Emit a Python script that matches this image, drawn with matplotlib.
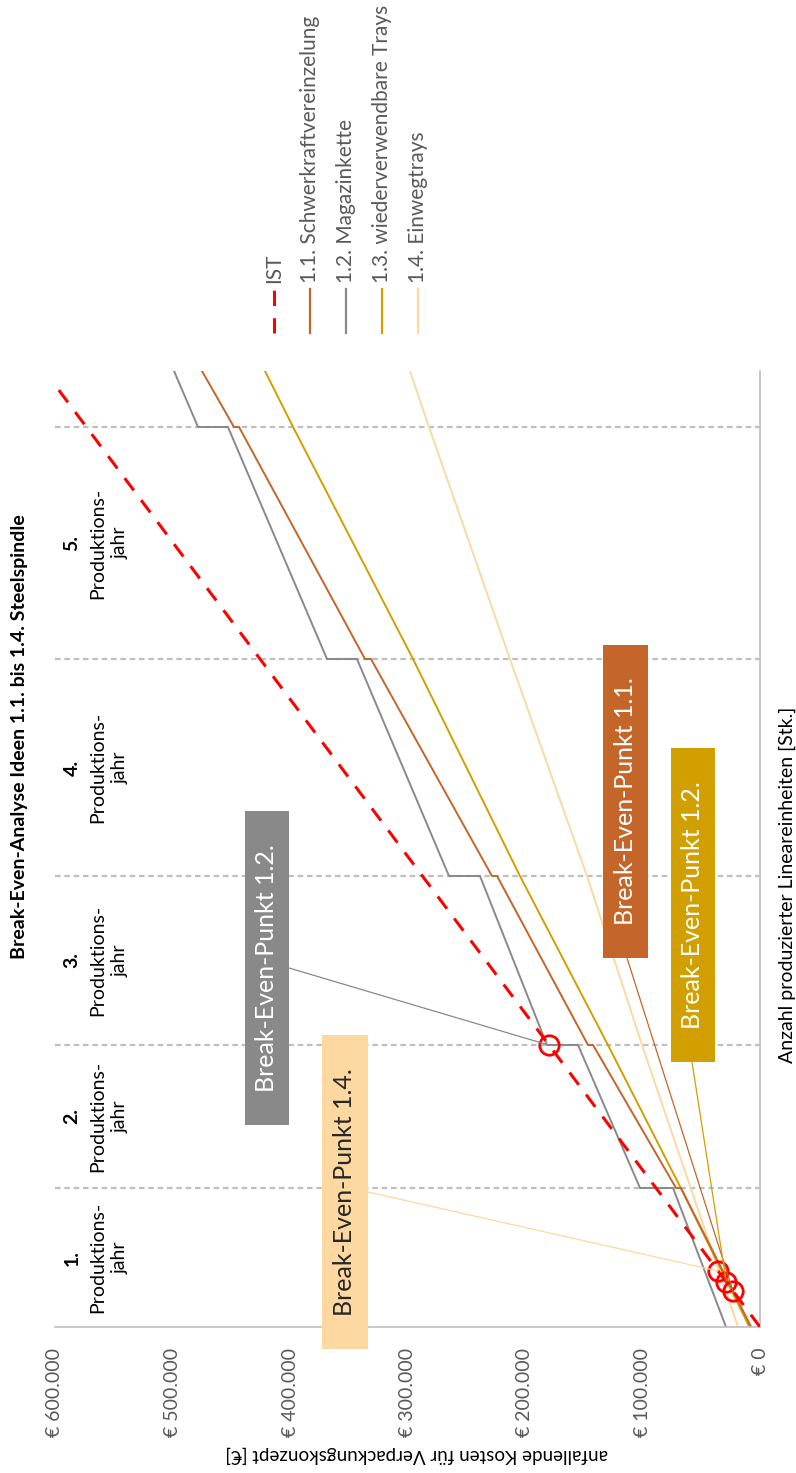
import matplotlib
matplotlib.use("Agg")
import matplotlib.pyplot as plt
from matplotlib import transforms
from matplotlib.lines import Line2D
from matplotlib.patches import Rectangle, ConnectionPatch
from matplotlib.ticker import FuncFormatter

plt.rcParams['font.family'] = ['Lato', 'DejaVu Sans']

W, H = 796, 1473

# produced units at the end of each production year (cumulative)
year_end = [6950, 14100, 22550, 33400, 45000]
units_max = 47800

# current state (IST)
ist_units = [0, 6950, 14100, 22550, 33400, 45000, 47100]
ist_cost = [0, 88500, 179600, 287300, 425500, 573300, 600000]

# ideas 1.1 - 1.4, value before and after each year change
step_units = [0, 6950, 6950, 14100, 14100, 22550, 22550,
              33400, 33400, 45000, 45000, 47800]
cost_11 = [7500, 67300, 71500, 142100, 146400, 223800, 228100,
           331100, 336200, 443400, 447700, 474900]
cost_12 = [28900, 74000, 102100, 154900, 181300, 238300, 264700,
           343000, 368500, 452800, 478300, 498700]
cost_13 = [9000, 67400, 67400, 129400, 129400, 204300, 204300,
           295300, 295300, 397400, 397400, 421300]
cost_14 = [18700, 59000, 59000, 100400, 100400, 147200, 147200,
           212800, 212800, 281700, 281700, 297900]

# break-even points (units, cost)
be_units = [1800, 2250, 2800, 14100]
be_cost = [23000, 28700, 35700, 180000]

cost_ticks = [0, 100000, 200000, 300000, 400000, 500000, 600000]

names = ['IST', '1.1. Schwerkraftvereinzelung', '1.2. Magazinkette',
         '1.3. wiederverwendbare Trays', '1.4. Einwegtrays']
c_red = '#FF0000'
c_11 = '#C4662A'
c_12 = '#898989'
c_13 = '#D29F00'
c_14 = '#FDD8A0'
colors = [c_red, c_11, c_12, c_13, c_14]


def fx(px):
    return px / W


def fy(py):
    return 1 - py / H


fig = plt.figure(figsize=(W / 100, H / 100), dpi=100)
ax = fig.add_axes([fx(55), fy(1327), fx(760) - fx(55), fy(371) - fy(1327)])

ax.set_xlim(600000, 0)
ax.set_ylim(0, units_max)

for u in year_end:
    ax.axhline(u, color='#BFBFBF', lw=1.6, ls=(0, (2.5, 1.7)), zorder=1)

ax.plot(cost_14, step_units, color=c_14, lw=1.4, zorder=2)
ax.plot(cost_13, step_units, color=c_13, lw=1.4, zorder=2)
ax.plot(cost_12, step_units, color=c_12, lw=1.4, zorder=2)
ax.plot(cost_11, step_units, color=c_11, lw=1.4, zorder=2)
ax.plot(ist_cost, ist_units, color=c_red, lw=2.2, dashes=(5, 4), zorder=3)
ax.plot(be_cost, be_units, 'o', mfc='none', mec=c_red, ms=14, mew=2,
        zorder=4, clip_on=False)

for s in ['top', 'left']:
    ax.spines[s].set_visible(False)
for s in ['bottom', 'right']:
    ax.spines[s].set_color('#BFBFBF')
    ax.spines[s].set_linewidth(1.2)

ax.set_yticks([])
ax.set_xticks(cost_ticks)
ax.xaxis.set_major_formatter(
    FuncFormatter(lambda v, p: '€ ' + f'{int(v):,}'.replace(',', '.')))
ax.tick_params(axis='x', length=0, pad=15, labelrotation=90,
               labelsize=14, labelcolor='#595959')

# production year labels
bt = transforms.blended_transform_factory(fig.transFigure, ax.transData)
bounds = [0] + year_end
for i in range(5):
    mid = (bounds[i] + bounds[i + 1]) / 2
    ax.text(fx(72), mid, f'{i + 1}.', transform=bt, rotation=90,
            ha='center', va='center', fontsize=14, fontweight='bold')
    ax.text(fx(109), mid, 'Produktions-\njahr', transform=bt, rotation=90,
            ha='center', va='center', fontsize=14, linespacing=1.4,
            multialignment='center')

fig.text(fx(20), fy(737), 'Break-Even-Analyse Ideen 1.1. bis 1.4. Steelspindle',
         rotation=90, ha='center', va='center', fontsize=14, fontweight='bold')
fig.text(fx(417), fy(1455), 'anfallende Kosten für Verpackungskonzept [€]',
         rotation=180, ha='center', va='center', fontsize=13.5)
fig.text(fx(787), fy(885), 'Anzahl produzierter Lineareinheiten [Stk.]',
         rotation=90, ha='center', va='center', fontsize=14)

# legend
for i, (name, col) in enumerate(zip(names, colors)):
    x = 274 + 36 * i
    if i == 0:
        fig.add_artist(Line2D([fx(x), fx(x)], [fy(333), fy(289)],
                              transform=fig.transFigure, color=col, lw=2.2,
                              dashes=(5, 4)))
    else:
        fig.add_artist(Line2D([fx(x), fx(x)], [fy(333), fy(289)],
                              transform=fig.transFigure, color=col, lw=1.6))
    fig.text(fx(x), fy(283), name, rotation=90, ha='center', va='bottom',
             fontsize=15, color='#595959')

# break-even callouts: box (x0, y0, x1, y1 in px), colour, text colour,
# anchor of the leader line, break-even point index
callouts = [
    ((245, 811, 289, 1125), c_12, 'white', (289, 968), 3, 'Break-Even-Punkt 1.2.'),
    ((322, 1035, 368, 1349), c_14, '#262626', (368, 1192), 2, 'Break-Even-Punkt 1.4.'),
    ((603, 645, 648, 958), c_11, 'white', (627, 958), 0, 'Break-Even-Punkt 1.1.'),
    ((671, 748, 715, 1062), c_13, 'white', (692, 1062), 1, 'Break-Even-Punkt 1.2.'),
]
for (x0, y0, x1, y1), col, tcol, anchor, k, label in callouts:
    fig.add_artist(ConnectionPatch(
        xyA=(fx(anchor[0]), fy(anchor[1])), coordsA='figure fraction',
        xyB=(be_cost[k], be_units[k]), coordsB=ax.transData,
        color=col, lw=0.9, zorder=5))
    fig.add_artist(Rectangle((fx(x0), fy(y1)), fx(x1) - fx(x0), fy(y0) - fy(y1),
                             transform=fig.transFigure, facecolor=col,
                             edgecolor='none', zorder=6))
    fig.text(fx((x0 + x1) / 2), fy((y0 + y1) / 2), label, rotation=90,
             ha='center', va='center', fontsize=18, color=tcol, zorder=7)

fig.savefig('out.png', dpi=100)
